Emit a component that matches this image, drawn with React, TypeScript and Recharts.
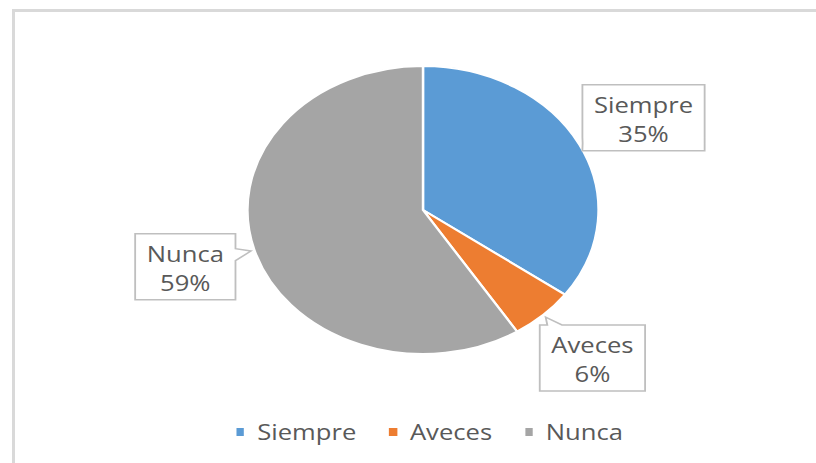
import React from "react"
import { PieChart, Pie, Cell, Legend } from "recharts"

const categories = ["Siempre", "Aveces", "Nunca"]
const values = [35, 6, 59]
const colors = ["#5B9BD5", "#ED7D31", "#A5A5A5"]

const data = categories.map((name, i) => ({ name, value: values[i] }))

const FONT = '"Open Sans", sans-serif'
const FS = 21
const TEXT = "#595959"
const STRETCH = 1.219

let ctx: CanvasRenderingContext2D | null = null
const textWidth = (s: string) => {
  if (!ctx) ctx = document.createElement("canvas").getContext("2d")
  if (!ctx) return s.length * 11
  ctx.font = `${FS}px ${FONT}`
  return ctx.measureText(s).width
}

const RAD = Math.PI / 180

const renderLabel = (props: any) => {
  const { cx, cy, midAngle, outerRadius, percent, name } = props
  const cos = Math.cos(-midAngle * RAD)
  const sin = Math.sin(-midAngle * RAD)
  const bx = cx + outerRadius * 1.41 * cos
  const by = cy + outerRadius * 1.41 * sin
  const tx = cx + (outerRadius + 3) * cos
  const ty = cy + (outerRadius + 3) * sin
  const pct = `${Math.round(percent * 100)}%`
  const w = Math.max(textWidth(name), textWidth(pct)) + 19
  const h = 66
  const L = bx - w / 2
  const R = bx + w / 2
  const T = by - h / 2
  const B = by + h / 2
  const dx = tx - bx
  const dy = ty - by
  const hw = 6
  const clamp = (v: number, a: number, b: number) => Math.min(Math.max(v, a), b)
  let d = ""
  if (Math.abs(dx) / (w / 2) > Math.abs(dy) / (h / 2)) {
    // pointer on left or right edge
    const py = clamp(by + (dy * (w / 2)) / Math.abs(dx), T + hw, B - hw)
    if (dx > 0) {
      d = `M${L},${T} L${R},${T} L${R},${py - hw} L${tx},${ty} L${R},${py + hw} L${R},${B} L${L},${B} Z`
    } else {
      d = `M${L},${T} L${R},${T} L${R},${B} L${L},${B} L${L},${py + hw} L${tx},${ty} L${L},${py - hw} Z`
    }
  } else {
    const px = clamp(bx + (dx * (h / 2)) / Math.abs(dy), L + hw, R - hw)
    if (dy < 0) {
      d = `M${L},${T} L${px - hw},${T} L${tx},${ty} L${px + hw},${T} L${R},${T} L${R},${B} L${L},${B} Z`
    } else {
      d = `M${L},${T} L${R},${T} L${R},${B} L${px + hw},${B} L${tx},${ty} L${px - hw},${B} L${L},${B} Z`
    }
  }
  return (
    <g>
      <path d={d} fill="#fff" stroke="#BFBFBF" strokeWidth={1.5} />
      <text x={bx} textAnchor="middle" fill={TEXT} fontSize={FS} fontFamily={FONT}>
        <tspan x={bx} y={by - 5}>{name}</tspan>
        <tspan x={bx} y={by + 24}>{pct}</tspan>
      </text>
    </g>
  )
}

const renderLegend = () => (
  <div
    style={{
      display: "flex",
      justifyContent: "center",
      alignItems: "center",
      fontFamily: FONT,
      fontSize: FS,
      lineHeight: "28px",
      color: TEXT,
    }}
  >
    {categories.map((c, i) => (
      <div key={c} style={{ display: "flex", alignItems: "center", marginRight: i < categories.length - 1 ? 27 : 0 }}>
        <span style={{ width: 6.5, height: 8, background: colors[i], marginRight: 10.5, display: "inline-block" }} />
        <span>{c}</span>
      </div>
    ))}
  </div>
)

export default function App() {
  return (
    <div
      style={{
        position: "absolute",
        left: 0,
        top: 0,
        width: 816,
        height: 463,
        overflow: "hidden",
        background: "#fff",
      }}
    >
      <div
        style={{
          position: "absolute",
          left: 12,
          top: 9,
          width: 900,
          height: 600,
          border: "3px solid #D9D9D9",
        }}
      />
      <div style={{ position: "absolute", left: 0, top: 0, transform: `scaleX(${STRETCH})`, transformOrigin: "0 0" }}>
        <PieChart width={705} height={463} margin={{ top: 0, right: 0, bottom: 0, left: 0 }}>
          <Pie
            data={data}
            dataKey="value"
            nameKey="name"
            cx={347}
            cy={210}
            outerRadius={144}
            startAngle={90}
            endAngle={-270}
            stroke="#fff"
            strokeWidth={2}
            label={renderLabel}
            labelLine={false}
            isAnimationActive={false}
          >
            {data.map((d, i) => (
              <Cell key={d.name} fill={colors[i]} />
            ))}
          </Pie>
          <Legend verticalAlign="bottom" content={renderLegend} wrapperStyle={{ bottom: 17 }} />
        </PieChart>
      </div>
    </div>
  )
}
